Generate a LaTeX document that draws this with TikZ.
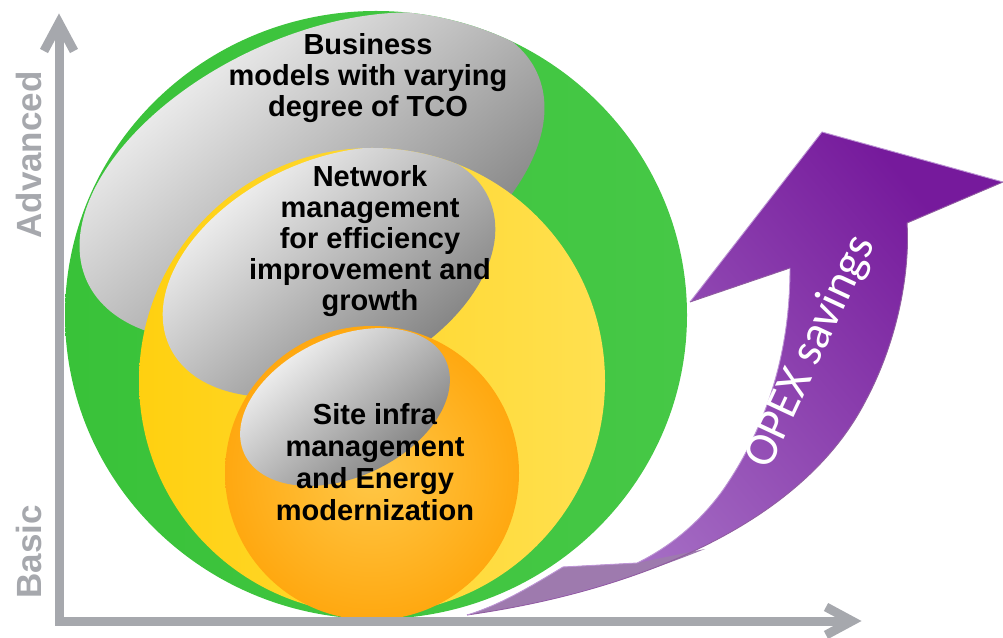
\documentclass[tikz,border=0pt]{standalone}
\usepackage{fontspec}
\setmainfont{Liberation Sans}
\newfontfamily\opexfont{Carlito}
\usetikzlibrary{arrows.meta}
\definecolor{grn}{RGB}{57,194,57}
\definecolor{grnl}{RGB}{70,200,70}
\definecolor{ylw}{RGB}{255,208,16}
\definecolor{ylwl}{RGB}{255,224,80}
\definecolor{org}{RGB}{255,168,16}
\definecolor{orgl}{RGB}{255,200,72}
\definecolor{axisgray}{RGB}{166,168,173}
\definecolor{purd}{RGB}{118,26,156}
\definecolor{purl}{RGB}{172,122,202}
\definecolor{purback}{RGB}{158,122,174}
\definecolor{purline}{RGB}{96,24,120}

\begin{document}
\begin{tikzpicture}[x=1pt,y=1pt,
  egg/.style={top color=white, middle color=black!7, bottom color=black!55, shading angle=40},
  lbl/.style={font=\fontsize{29}{31}\selectfont\bfseries, align=center, text=black},
  axislbl/.style={font=\fontsize{35}{38}\selectfont\bfseries, text=axisgray, rotate=90},
  axisline/.style={line width=9pt, draw=axisgray, line join=miter}]
\useasboundingbox (0,0) rectangle (1003,637);

% centres
\coordinate (gc) at (376,322);
\coordinate (yc) at (372,256);
\coordinate (oc) at (372,164);
\coordinate (e1) at (312,460);
\coordinate (e2) at (329,365);
\coordinate (e3) at (345,230);

% green circle + top egg
\shade[left color=grn, right color=grnl] (gc) ellipse [x radius=311pt, y radius=304pt];
\begin{scope}
  \clip (gc) ellipse [x radius=311pt, y radius=304pt];
  \shade[egg, rotate around={25:(e1)}] (e1) ellipse [x radius=248pt, y radius=140pt];
\end{scope}

% yellow circle + middle egg
\shade[left color=ylw, right color=ylwl] (yc) circle [radius=233pt];
\begin{scope}
  \clip (yc) circle [radius=233pt];
  \shade[egg, rotate around={25:(e2)}] (e2) ellipse [x radius=176pt, y radius=111pt];
\end{scope}

% orange circle + small egg
\shade[inner color=orgl, outer color=org] (oc) circle [radius=147pt];
\begin{scope}
  \clip (oc) circle [radius=147pt];
  \shade[egg, rotate around={25:(e3)}] (e3) ellipse [x radius=111pt, y radius=70pt];
\end{scope}

% texts
\node[lbl] (tco) at (368,559) {Business\\models with varying\\degree of TCO};
\node[lbl] (net) at (370,396) {Network\\management\\for efficiency\\improvement and\\growth};
\node[lbl, font=\fontsize{29}{32}\selectfont\bfseries] (site) at (375,175) {Site infra\\management\\and Energy\\modernization};

% axes
\coordinate (origin) at (59,16);
\coordinate (ytip) at (59,614);
\coordinate (xtip) at (852,16);
\draw[axisline] (ytip) -- (origin) -- (xtip);
\draw[axisline] ([shift={(-15,-28)}]ytip) -- (ytip) -- ([shift={(15,-28)}]ytip);
\draw[axisline] ([shift={(-26,14)}]xtip) -- (xtip) -- ([shift={(-26,-14)}]xtip);
\node[axislbl] (adv) at (29,482) {Advanced};
\node[axislbl] (basic) at (29,85) {Basic};

% purple arrow
\coordinate (tail) at (467,22);
\shade[top color=purl, bottom color=purd, shading angle=130]
  (tail) .. controls (630,45) and (800,110) .. (865,235)
  .. controls (900,300) and (910,370) .. (907,414)
  -- (1003,455) -- (822,505) -- (690,335) -- (790,369)
  .. controls (790,290) and (770,215) .. (723,147)
  .. controls (700,115) and (670,90) .. (637,74)
  -- (563,70) .. controls (530,50) and (500,32) .. (tail) -- cycle;
\fill[purback] (tail) .. controls (500,32) and (530,50) .. (563,70)
  -- (637,74) -- (705,88) .. controls (640,62) and (560,36) .. (tail) -- cycle;
\draw[purline!70, line width=0.9pt, line join=round]
  (tail) .. controls (630,45) and (800,110) .. (865,235)
  .. controls (900,300) and (910,370) .. (907,414) -- (1003,455);
\draw[purl!80!white, line width=0.9pt, line join=round]
  (1003,455) -- (822,505) -- (690,335);
\draw[purline!70, line width=0.9pt] (690,335) -- (790,369);
\draw[purl!80!white, line width=0.9pt]
  (790,369) .. controls (790,290) and (770,215) .. (723,147)
  .. controls (700,115) and (670,90) .. (637,74) -- (563,70)
  .. controls (530,50) and (500,32) .. (tail);
\node[text=white, font=\opexfont\fontsize{47}{50}\selectfont, rotate=65] (opex) at (811,285) {OPEX savings};
\end{tikzpicture}
\end{document}
